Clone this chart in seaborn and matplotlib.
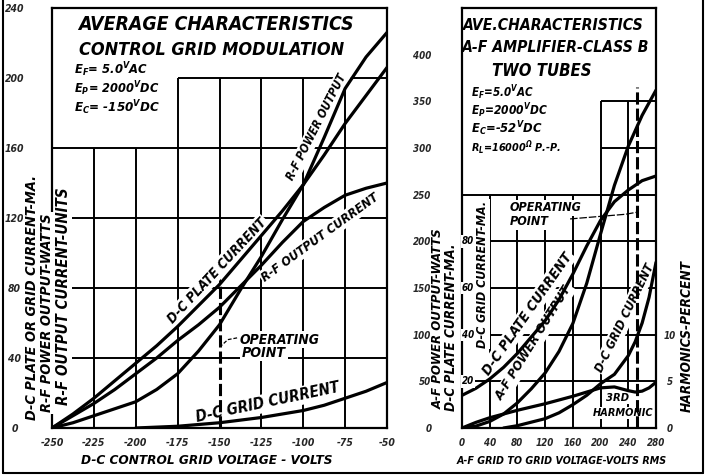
import matplotlib
matplotlib.use("Agg")
import matplotlib.pyplot as plt
import seaborn as sns
import pandas as pd
from matplotlib import font_manager as fm
from matplotlib.lines import Line2D

# ---------------- data: left panel (control grid modulation) ----------------
lp_volts = [-250, -237.5, -225, -212.5, -200, -187.5, -175, -162.5, -150,
            -137.5, -125, -112.5, -100, -87.5, -75, -62.5, -50]
lp_plate_ma = [0, 8, 17, 27, 37, 47, 58, 70, 82, 96, 110, 124, 139, 156, 174, 190, 206]
lp_rf_power_w = [0, 3, 7, 11, 15, 22, 31, 44, 59, 79, 98, 119, 139, 166, 194, 212, 226]
lp_rf_current_units = [0, 7, 14, 22, 31, 40, 50, 59, 69, 81, 93, 106, 118, 126, 133, 137, 140]
lp_grid_volts = [-200, -187.5, -175, -162.5, -150, -137.5, -125, -112.5, -100,
                 -87.5, -75, -62.5, -50]
lp_grid_ma = [0, 0.5, 1, 2, 3, 4.5, 6, 8, 10, 13, 17, 21, 26]
lp_xticks = [-250, -225, -200, -175, -150, -125, -100, -75, -50]
lp_xtick_labels = ["-250", "-225", "-200", "-175", "-150", "-125", "-100", "-75", "-50"]
lp_yticks = [0, 40, 80, 120, 160, 200, 240]
lp_ytick_labels = ["0", "40", "80", "120", "160", "200", "240"]
lp_operating_volts = -150
lp_operating_top = 82

# ---------------- data: right panel (A-F amplifier class B) ----------------
rp_volts = [0, 20, 40, 60, 80, 100, 120, 140, 160, 180, 200, 220, 240, 260, 280]
rp_plate_ma = [14, 17, 21, 26, 32, 39, 46, 55, 66, 78, 89, 97, 102, 106, 108]
rp_af_power_w = [0, 2, 7, 15, 27, 42, 59, 82, 112, 155, 208, 260, 302, 335, 362]
rp_grid_volts = [60, 80, 100, 120, 140, 160, 180, 200, 220, 240, 250, 260, 270, 280]
rp_grid_ma = [0, 1, 2.5, 4, 6.5, 10, 14, 19, 23, 31, 37, 45, 56, 71]
rp_harm_volts = [0, 20, 40, 60, 80, 100, 120, 140, 160, 180, 200, 220, 240, 250, 260, 270, 280]
rp_3rd_harm_pct = [0, 0.6, 1.1, 1.5, 1.9, 2.25, 2.6, 3.0, 3.4, 3.85, 4.3, 4.4, 4.0, 3.85, 3.95, 4.3, 4.9]
rp_xticks = [0, 40, 80, 120, 160, 200, 240, 280]
rp_xtick_labels = ["0", "40", "80", "120", "160", "200", "240", "280"]
rp_watt_ticks = [0, 50, 100, 150, 200, 250, 300, 350, 400]
rp_watt_labels = ["0", "50", "100", "150", "200", "250", "300", "350", "400"]
rp_ma_ticks = [20, 40, 60, 80]
rp_ma_labels = ["20", "40", "60", "80"]
rp_harm_ticks = [0, 5, 10]
rp_harm_labels = ["0", "5", "10"]
rp_dash_volts = 252
rp_dash_top = 365

# ---------------- style ----------------
sns.set_theme(style="white")
names = {f.name for f in fm.fontManager.ttflist}
if "Liberation Sans Narrow" in names:
    FAM, STRETCH = "Liberation Sans Narrow", "normal"
elif any(f.name == "DejaVu Sans" and "condensed" in str(f.stretch) for f in fm.fontManager.ttflist):
    FAM, STRETCH = "DejaVu Sans", "condensed"
else:
    FAM, STRETCH = "DejaVu Sans", "normal"
plt.rcParams.update({
    "font.family": [FAM, "DejaVu Sans"],
    "font.style": "italic",
    "font.weight": "bold",
    "font.stretch": STRETCH,
    "axes.unicode_minus": False,
    "mathtext.fontset": "custom",
    "mathtext.rm": f"{FAM}:italic:bold",
    "mathtext.it": f"{FAM}:italic:bold",
    "mathtext.bf": f"{FAM}:italic:bold",
    "text.color": "black",
})

W, H = 724, 476
fig = plt.figure(figsize=(W / 100, H / 100), dpi=100)
fig.patch.set_facecolor("white")
renderer = fig.canvas.get_renderer()

def fpos(px, py):
    return px / W, 1 - py / H

def fit(t, target):
    rot = t.get_rotation()
    t.set_rotation(0)
    w = t.get_window_extent(renderer).width
    if w > 0:
        t.set_fontsize(t.get_fontsize() * target / w)
    t.set_rotation(rot)
    return t

def ftext(px, py, s, target=None, size=10, **kw):
    kw.setdefault("ha", "center")
    kw.setdefault("va", "center")
    t = fig.text(*fpos(px, py), s, fontsize=size, **kw)
    if target:
        fit(t, target)
    return t

WHITE = dict(boxstyle="square,pad=0.12", fc="white", ec="none")
LW_CURVE = 2.3
LW_GRID = 1.4
LW_SPINE = 1.6

axL = fig.add_axes([52 / W, 1 - 428 / H, 335 / W, 420 / H])
axR = fig.add_axes([462 / W, 1 - 428 / H, 194 / W, 420 / H])

# ---------------- left panel ----------------
axL.set_xlim(-250, -50)
axL.set_ylim(0, 240)
dfL = pd.DataFrame({"v": lp_volts, "plate": lp_plate_ma, "power": lp_rf_power_w,
                    "rfcur": lp_rf_current_units})
dfLg = pd.DataFrame({"v": lp_grid_volts, "grid": lp_grid_ma})
for col in ["plate", "power", "rfcur"]:
    sns.lineplot(data=dfL, x="v", y=col, ax=axL, color="black", lw=LW_CURVE, zorder=4)
sns.lineplot(data=dfLg, x="v", y="grid", ax=axL, color="black", lw=LW_CURVE, zorder=4)
axL.set_xlabel("")
axL.set_ylabel("")

box_step_x, box_low, box_high = -175, 160, 200
for x in lp_xticks[1:-1]:
    top = box_low if x < box_step_x else box_high
    bottom = lp_operating_top if x == lp_operating_volts else 0
    axL.vlines(x, bottom, top, color="black", lw=LW_GRID, zorder=1)
for y in lp_yticks[1:-1]:
    left = box_step_x if y >= box_high else -250
    axL.hlines(y, left, -50, color="black", lw=LW_GRID, zorder=1)
axL.vlines(lp_operating_volts, 0, lp_operating_top, color="black", lw=2.2,
           linestyles=(0, (4, 1.3)), zorder=3)

axL.set_xticks(lp_xticks, labels=lp_xtick_labels)
axL.set_yticks(lp_yticks, labels=lp_ytick_labels)
axL.tick_params(axis="x", length=0, pad=7, labelsize=7.5)
axL.tick_params(axis="y", length=0, pad=27, labelsize=7.5)
for lbl in axL.get_yticklabels():
    lbl.set_ha("center")
for sp in axL.spines.values():
    sp.set_color("black")
    sp.set_linewidth(LW_SPINE)

def ltext(ax, x, y, s, rot, target, bg=True, ha="center", size=9):
    t = ax.text(x, y, s, rotation=rot, rotation_mode="anchor", ha=ha, va="center",
                fontsize=size, zorder=2.5, bbox=WHITE if bg else None)
    fit(t, target)
    return t

ltext(axL, -92, 172, "R-F POWER OUTPUT", 63, 118)
ltext(axL, -151.5, 90, "D-C PLATE CURRENT", 47, 138)
ltext(axL, -90, 109, "R-F OUTPUT CURRENT", 36, 140)
ltext(axL, -121, 14.5, "D-C GRID CURRENT", 12, 146)
ltext(axL, -137.8, 50.5, "OPERATING", 0, 80, ha="left")
ltext(axL, -136.5, 43, "POINT", 0, 44, ha="left")
axL.plot([-139.5, -145, -149], [51.5, 50.5, 47], color="black", lw=0.9,
         linestyle=(0, (3, 1.5)), zorder=3)

# ---------------- right panel ----------------
axR.set_xlim(0, 280)
axR.set_ylim(0, 450)
axMA = axR.twinx()
axMA.set_ylim(0, 180)
axH = axR.twinx()
axH.set_ylim(0, 45)

dfR = pd.DataFrame({"v": rp_volts, "plate": rp_plate_ma, "power": rp_af_power_w})
dfRg = pd.DataFrame({"v": rp_grid_volts, "grid": rp_grid_ma})
dfRh = pd.DataFrame({"v": rp_harm_volts, "h3": rp_3rd_harm_pct})
sns.lineplot(data=dfR, x="v", y="power", ax=axR, color="black", lw=LW_CURVE, zorder=4)
sns.lineplot(data=dfR, x="v", y="plate", ax=axMA, color="black", lw=LW_CURVE, zorder=4)
sns.lineplot(data=dfRg, x="v", y="grid", ax=axMA, color="black", lw=LW_CURVE, zorder=4)
sns.lineplot(data=dfRh, x="v", y="h3", ax=axH, color="black", lw=LW_CURVE, zorder=4)
for a in (axR, axMA, axH):
    a.set_xlabel("")
    a.set_ylabel("")
axR.set_xlim(0, 280)

for x in rp_xticks[1:-1]:
    top = 350 if x >= 200 else 250
    axR.vlines(x, 0, top, color="black", lw=LW_GRID, zorder=1)
for y in rp_watt_ticks[1:-1]:
    left = 0 if y <= 250 else 200
    axR.hlines(y, left, 280, color="black", lw=LW_GRID, zorder=1)
axR.vlines(rp_dash_volts, 0, rp_dash_top, color="black", lw=2.2,
           linestyles=(0, (4, 1.3)), zorder=3)

axR.set_xticks(rp_xticks, labels=rp_xtick_labels)
axR.set_yticks(rp_watt_ticks, labels=rp_watt_labels)
axR.tick_params(axis="x", length=0, pad=7, labelsize=7)
axR.tick_params(axis="y", length=0, pad=22, labelsize=7)
for sp in axR.spines.values():
    sp.set_color("black")
    sp.set_linewidth(LW_SPINE)

axMA.set_yticks([])
for sp in axMA.spines.values():
    sp.set_visible(False)
axH.set_yticks(rp_harm_ticks, labels=rp_harm_labels)
axH.tick_params(axis="y", length=0, pad=10, labelsize=7)
for lbl in axH.get_yticklabels():
    lbl.set_ha("center")
for sp in axH.spines.values():
    sp.set_visible(False)

for v, s in zip(rp_ma_ticks, rp_ma_labels):
    axMA.text(0.031, v, s, transform=axMA.get_yaxis_transform(), ha="center",
              va="center", fontsize=7, bbox=WHITE, zorder=5)

ltext(axR, 94, 122, "D-C PLATE CURRENT", 55, 145)
ltext(axR, 104, 91, "A-F POWER OUTPUT", 58, 132)
ltext(axR, 235, 118, "D-C GRID CURRENT", 64, 118)
ltext(axR, 225, 32, "3RD", 0, 23)
ltext(axR, 233, 16, "HARMONIC", 0, 60)
ltext(axR, 69, 236, "OPERATING", 0, 72, ha="left")
ltext(axR, 69, 221, "POINT", 0, 39, ha="left")
axR.plot([156, 236, 251], [224, 229, 231], color="black", lw=0.9,
         linestyle=(0, (6, 1.5)), zorder=3)
t = axR.text(29, 165, "D-C GRID CURRENT-MA.", rotation=90, ha="center", va="center",
             fontsize=8, bbox=WHITE, zorder=2.5)
fit(t, 148)

# ---------------- titles & axis labels ----------------
ftext(216, 25, "AVERAGE CHARACTERISTICS", 277, 14)
ftext(212, 50, "CONTROL GRID MODULATION", 267, 14)
ftext(74, 70, r"E$_F$= 5.0$^V$AC", 74, 10, ha="left")
ftext(74, 89, r"E$_P$= 2000$^V$DC", 85, 10, ha="left")
ftext(74, 108, r"E$_C$= -150$^V$DC", 86, 10, ha="left")

ftext(553, 25, "AVE.CHARACTERISTICS", 180, 12)
ftext(556, 48, "A-F AMPLIFIER-CLASS B", 187, 12)
ftext(542, 71, "TWO TUBES", 99, 12)
ftext(471, 93, r"E$_F$=5.0$^V$AC", 63, 9, ha="left")
ftext(471, 111, r"E$_P$=2000$^V$DC", 77, 9, ha="left")
ftext(471, 129, r"E$_C$=-52$^V$DC", 72, 9, ha="left")
ftext(471, 148, r"R$_L$=16000$^{\Omega}$ P.-P.", 90, 9, ha="left")

ftext(207, 460, "D-C CONTROL GRID VOLTAGE - VOLTS", 251, 10)
ftext(562, 461, "A-F GRID TO GRID VOLTAGE-VOLTS RMS", 210, 9)

ftext(32, 297, "D-C PLATE OR GRID CURRENT-MA.", 245, 10, rotation=90, bbox=WHITE)
ftext(47, 313, "R-F POWER OUTPUT-WATTS", 198, 10, rotation=90, bbox=WHITE)
ftext(63, 296, "R-F OUTPUT CURRENT-UNITS", 218, 10, rotation=90, bbox=WHITE)

ftext(438, 319, "A-F POWER OUTPUT-WATTS", 180, 10, rotation=90)
ftext(451, 327, "D-C PLATE CURRENT-MA.", 168, 10, rotation=90)
ftext(687, 336, "HARMONICS-PERCENT", 152, 10, rotation=90)

# outer frame
for xs, ys in [([3, 3], [0, 473]), ([3, 703], [473, 473]), ([703, 703], [0, 473])]:
    fig.add_artist(Line2D([x / W for x in xs], [1 - y / H for y in ys],
                          transform=fig.transFigure, color="black", lw=1.5))

fig.savefig("out.png", dpi=100, facecolor="white")
